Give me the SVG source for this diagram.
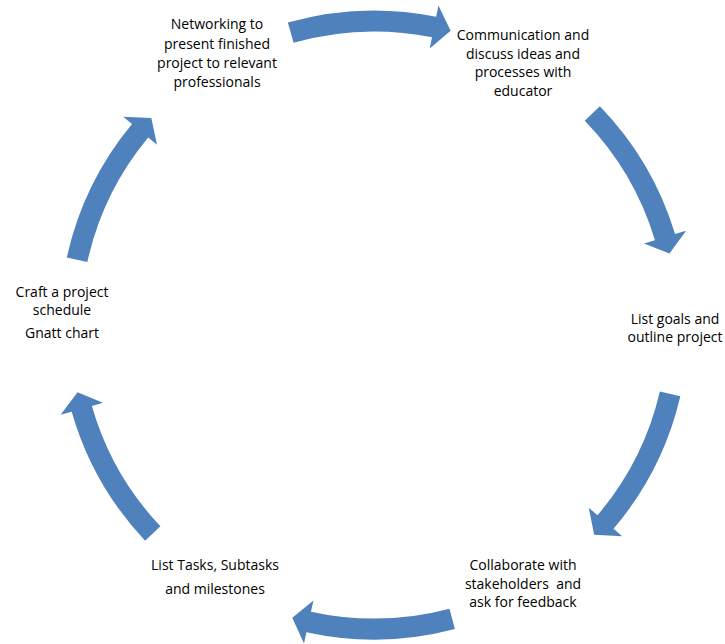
<svg xmlns="http://www.w3.org/2000/svg" xmlns:xlink="http://www.w3.org/1999/xlink" width="725" height="644" viewBox="0 0 725 644">
  <style>
    .bg { fill: #ffffff; }
    .arrow { fill: #4F81BD; }
    .label { font-family: "Open Sans", "Liberation Sans", sans-serif; font-size: 14px; fill: #000000; text-anchor: middle; white-space: pre; }
  </style>
  <defs>
    <!-- curved block arrow on a ring of radius 304 around the origin, centred on angle 0, travelling clockwise -->
    <path id="ring-arrow" class="arrow"
          d="M 303.21,-83.52 A 314.5 314.5 0 0 1 307.74,64.85 L 318.99,67.22 L 293.50,79.19 L 275.94,58.15 L 287.19,60.52 A 293.5 293.5 0 0 0 282.96,-77.94 Z"/>
  </defs>

  <rect class="bg" x="0" y="0" width="725" height="644"/>

  <g id="connectors">
    <use xlink:href="#ring-arrow" href="#ring-arrow" transform="translate(374,325) rotate(-90.5)"/>
    <use xlink:href="#ring-arrow" href="#ring-arrow" transform="translate(374,325) rotate(-28.7)"/>
    <use xlink:href="#ring-arrow" href="#ring-arrow" transform="translate(374,325) rotate(28.5)"/>
    <use xlink:href="#ring-arrow" href="#ring-arrow" transform="translate(374,325) rotate(90.5)"/>
    <use xlink:href="#ring-arrow" href="#ring-arrow" transform="translate(374,325) rotate(152.1)"/>
    <use xlink:href="#ring-arrow" href="#ring-arrow" transform="translate(374,325) rotate(207.8)"/>
  </g>

  <g id="node-networking">
    <text class="label" x="217" y="29">Networking to</text>
    <text class="label" x="217" y="48.5">present finished</text>
    <text class="label" x="217" y="68">project to relevant</text>
    <text class="label" x="217" y="87">professionals</text>
  </g>

  <g id="node-communication">
    <text class="label" x="523" y="40">Communication and</text>
    <text class="label" x="523" y="58.5">discuss ideas and</text>
    <text class="label" x="523" y="77">processes with</text>
    <text class="label" x="523" y="95.5">educator</text>
  </g>

  <g id="node-goals">
    <text class="label" x="675" y="323.5">List goals and</text>
    <text class="label" x="675" y="342">outline project</text>
  </g>

  <g id="node-collaborate">
    <text class="label" x="523" y="570">Collaborate with</text>
    <text class="label" x="523" y="588.5">stakeholders  and</text>
    <text class="label" x="523" y="607">ask for feedback</text>
  </g>

  <g id="node-tasks">
    <text class="label" x="215" y="570">List Tasks, Subtasks</text>
    <text class="label" x="215" y="594">and milestones</text>
  </g>

  <g id="node-schedule">
    <text class="label" x="62" y="297">Craft a project</text>
    <text class="label" x="62" y="315">schedule</text>
    <text class="label" x="62" y="338">Gnatt chart</text>
  </g>
</svg>
